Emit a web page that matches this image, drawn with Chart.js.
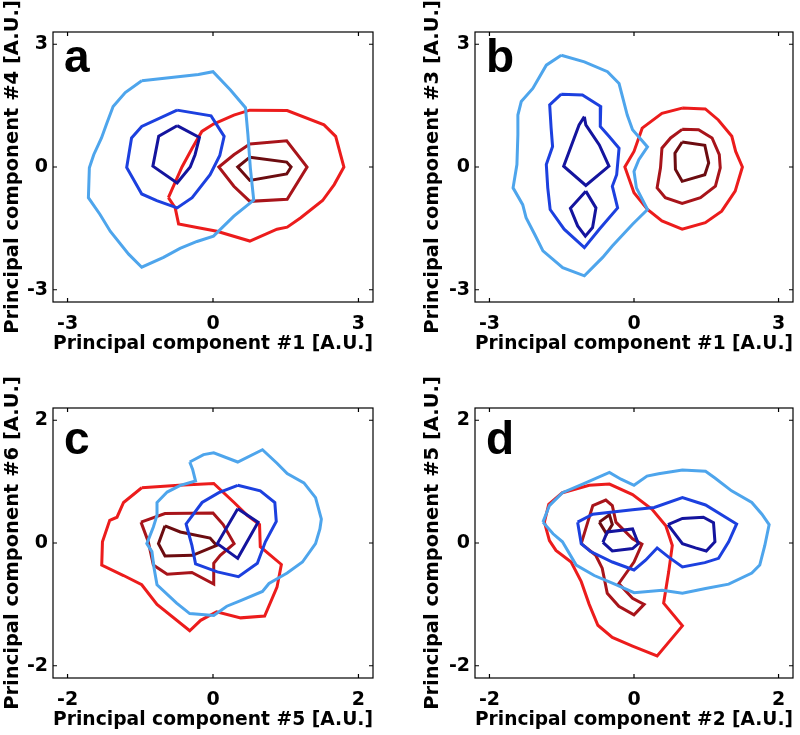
<!DOCTYPE html>
<html>
<head>
<meta charset="utf-8">
<script src="https://cdn.jsdelivr.net/npm/chart.js@4.4.1/dist/chart.umd.min.js"></script>
<style>
  body { margin: 0; width: 800px; height: 735px; overflow: hidden; background: #fff; position: relative; }
  canvas { position: absolute; }
</style>
</head>
<body>
<canvas id="panelA" width="400" height="370" style="left:0px;top:0px"></canvas>
<canvas id="panelB" width="400" height="370" style="left:400px;top:0px"></canvas>
<canvas id="panelC" width="400" height="370" style="left:0px;top:376px"></canvas>
<canvas id="panelD" width="400" height="370" style="left:400px;top:376px"></canvas>
<script>
// tick labels
const ticks3 = [-3, 0, 3];
const ticks2 = [-2, 0, 2];

// panel a : PC1 vs PC4
const aBlueOuter = [[-1.47,2.11],[-0.30,2.26],[0,2.33],[0.36,1.88],[0.67,1.45],[0.72,0.79],[0.77,-0.02],[0.84,-0.81],[0.43,-1.20],[0.01,-1.69],[-0.33,-1.82],[-0.68,-1.99],[-1.02,-2.21],[-1.47,-2.45],[-1.74,-2.13],[-2.12,-1.57],[-2.33,-1.16],[-2.57,-0.75],[-2.55,-0.02],[-2.46,0.30],[-2.30,0.71],[-2.19,1.07],[-2.06,1.48],[-1.81,1.82]];
const aBlueMid = [[-0.74,1.39],[-0.04,1.25],[0.23,0.75],[0.14,0.28],[-0.06,-0.19],[-0.43,-0.75],[-0.74,-1.00],[-1.16,-0.82],[-1.47,-0.66],[-1.78,-0.01],[-1.68,0.71],[-1.47,0.99]];
const aBlueInner = [[-0.74,1.01],[-0.28,0.72],[-0.37,0.30],[-0.47,0.00],[-0.74,-0.39],[-1.24,0.02],[-1.12,0.75]];
const aRedOuter = [[-0.92,-0.75],[-0.64,0.00],[-0.43,0.46],[-0.23,0.87],[0.01,1.05],[0.43,1.27],[0.76,1.39],[1.53,1.38],[2.29,1.03],[2.53,0.75],[2.70,0.00],[2.50,-0.43],[2.26,-0.82],[1.81,-1.24],[1.53,-1.47],[1.32,-1.52],[0.76,-1.81],[0.08,-1.57],[-0.33,-1.48],[-0.71,-1.39],[-0.78,-1.00]];
const aRedMid = [[0.76,0.56],[1.52,0.64],[1.94,0.00],[1.53,-0.79],[0.76,-0.84],[0.43,-0.47],[0.12,0.00],[0.43,0.30]];
const aRedInner = [[0.76,0.24],[1.52,0.12],[1.61,0.00],[1.52,-0.17],[0.76,-0.33],[0.51,0.00]];

// panel b : PC1 vs PC3
const bBlueOuter = [[-1.51,2.73],[-1.03,2.57],[-0.55,2.33],[-0.31,2.04],[-0.23,1.68],[-0.14,1.27],[-0.03,0.91],[0.28,0.49],[0.10,0.18],[0.00,-0.11],[0.05,-0.51],[0.28,-1.04],[-0.03,-1.40],[-0.45,-1.93],[-0.65,-2.21],[-1.03,-2.66],[-1.48,-2.46],[-1.89,-2.05],[-2.06,-1.65],[-2.24,-1.24],[-2.31,-0.92],[-2.51,-0.51],[-2.43,0.06],[-2.41,0.79],[-2.41,1.27],[-2.34,1.60],[-2.10,1.92],[-1.82,2.49]];
const bBlueMid = [[-1.51,1.78],[-1.07,1.76],[-0.69,1.48],[-0.70,0.99],[-0.52,0.75],[-0.31,0.46],[-0.36,-0.19],[-0.45,-0.47],[-0.34,-1.00],[-0.72,-1.52],[-1.03,-1.97],[-1.45,-1.52],[-1.74,-1.04],[-1.79,-0.51],[-1.82,0.06],[-1.69,0.50],[-1.72,0.95],[-1.75,1.52]];
const bBlueInnerTop = [[-1.03,1.23],[-1.00,1.03],[-0.72,0.54],[-0.52,0.02],[-1.00,-0.45],[-1.46,0.02],[-1.14,1.03]];
const bBlueInnerLow = [[-1.00,-0.59],[-0.79,-1.00],[-0.86,-1.48],[-1.01,-1.69],[-1.17,-1.44],[-1.32,-1.01]];
const bRedOuter = [[1.00,1.44],[1.48,1.42],[1.75,1.15],[2.03,0.75],[2.11,0.38],[2.25,0.00],[2.10,-0.59],[1.82,-1.08],[1.48,-1.36],[1.00,-1.52],[0.58,-1.32],[0.28,-1.04],[0.00,-0.63],[-0.19,0.00],[0.00,0.38],[0.17,0.95],[0.58,1.31]];
const bRedMid = [[1.00,0.92],[1.34,0.91],[1.62,0.71],[1.77,0.30],[1.79,-0.02],[1.69,-0.47],[1.38,-0.75],[1.00,-0.89],[0.65,-0.75],[0.48,-0.51],[0.55,-0.02],[0.58,0.46],[0.76,0.71]];
const bRedInner = [[1.00,0.61],[1.47,0.53],[1.55,0.10],[1.47,-0.19],[1.00,-0.35],[0.86,-0.06],[0.85,0.34]];

// panel c : PC5 vs PC6
const cBlueOuter = [[-0.32,1.32],[-0.13,1.44],[0.01,1.47],[0.34,1.32],[0.68,1.52],[0.88,1.30],[1.02,1.13],[1.25,0.98],[1.41,0.74],[1.49,0.39],[1.47,0.23],[1.41,-0.01],[1.23,-0.31],[1.02,-0.49],[0.93,-0.55],[0.77,-0.66],[0.68,-0.79],[0.38,-0.94],[0.19,-1.03],[0.01,-1.18],[-0.32,-1.15],[-0.50,-0.98],[-0.77,-0.68],[-0.81,-0.41],[-0.84,-0.14],[-0.91,-0.01],[-0.82,0.26],[-0.77,0.45],[-0.77,0.66],[-0.63,0.83],[-0.45,0.94],[-0.24,1.01],[-0.28,1.20]];
const cBlueMid = [[0.34,0.94],[0.65,0.85],[0.85,0.66],[0.87,0.35],[0.72,0.02],[0.61,-0.33],[0.35,-0.55],[0.06,-0.47],[-0.24,-0.34],[-0.29,-0.04],[-0.37,0.31],[-0.15,0.66],[0.08,0.82]];
const cBlueInner = [[0.34,0.56],[0.62,0.34],[0.34,-0.25],[0.06,-0.01]];
const cRedOuter = [[-0.98,0.90],[-0.47,0.94],[0.01,0.97],[0.29,0.66],[0.47,0.45],[0.64,0.30],[0.65,-0.06],[0.94,-0.35],[0.88,-0.72],[0.71,-1.19],[0.38,-1.22],[0.05,-1.12],[-0.17,-1.26],[-0.32,-1.43],[-0.77,-1.00],[-0.98,-0.68],[-1.23,-0.53],[-1.53,-0.36],[-1.52,0.02],[-1.42,0.37],[-1.32,0.42],[-1.23,0.66]];
const cRedMid = [[-0.99,0.34],[-0.66,0.48],[0.00,0.49],[0.14,0.30],[0.29,-0.01],[0.10,-0.20],[0.01,-0.33],[0.01,-0.67],[-0.29,-0.48],[-0.63,-0.51],[-0.82,-0.36],[-0.89,0.02]];
const cRedInner = [[-0.66,0.28],[-0.45,0.18],[-0.04,0.08],[0.05,-0.04],[-0.28,-0.20],[-0.66,-0.21],[-0.75,-0.01]];

// panel d : PC2 vs PC5
const dBlueOuter = [[-1.26,0.34],[-1.17,0.61],[-0.99,0.82],[-0.71,0.96],[-0.34,1.15],[-0.18,1.04],[0.00,0.94],[0.18,1.09],[0.34,1.13],[0.67,1.19],[0.99,1.17],[1.12,1.06],[1.35,0.85],[1.63,0.66],[1.77,0.47],[1.87,0.30],[1.81,-0.04],[1.74,-0.36],[1.63,-0.49],[1.31,-0.67],[0.99,-0.74],[0.67,-0.82],[0.39,-0.77],[0.00,-0.81],[-0.25,-0.68],[-0.55,-0.53],[-0.80,-0.36],[-0.99,0.02],[-1.12,0.15]];
const dBlueMid = [[-0.78,0.34],[-0.57,0.47],[-0.02,0.54],[0.28,0.58],[0.67,0.74],[0.99,0.62],[1.42,0.31],[1.31,0.02],[1.17,-0.25],[0.98,-0.32],[0.67,-0.39],[0.48,-0.23],[0.32,-0.08],[0.16,-0.28],[0.00,-0.44],[-0.30,-0.31],[-0.60,-0.14],[-0.73,-0.01]];
const dBlueInnerLeft = [[-0.43,0.01],[-0.37,0.18],[-0.02,0.23],[0.06,-0.01],[-0.02,-0.09],[-0.30,-0.13]];
const dBlueInnerRight = [[0.47,0.30],[0.67,0.40],[0.96,0.42],[1.10,0.33],[1.12,0.02],[1.00,-0.13],[0.85,-0.08],[0.67,-0.01]];
const dRedOuter = [[-1.24,0.34],[-1.18,0.63],[-0.99,0.82],[-0.62,0.94],[-0.34,0.96],[-0.02,0.79],[0.25,0.55],[0.44,0.28],[0.53,-0.04],[0.48,-0.47],[0.41,-0.98],[0.67,-1.35],[0.32,-1.84],[-0.02,-1.68],[-0.30,-1.54],[-0.50,-1.34],[-0.62,-1.00],[-0.73,-0.63],[-0.87,-0.31],[-1.08,-0.12],[-1.17,0.04]];
const dRedMid = [[-0.73,-0.01],[-0.64,0.34],[-0.57,0.61],[-0.39,0.70],[-0.30,0.61],[-0.25,0.34],[-0.02,0.07],[0.11,-0.02],[0.00,-0.31],[-0.21,-0.66],[-0.02,-0.90],[0.14,-1.00],[0.00,-1.17],[-0.21,-1.03],[-0.37,-0.82],[-0.44,-0.41],[-0.53,-0.20]];
const dRedInner = [[-0.48,0.34],[-0.34,0.46],[-0.30,0.30],[-0.38,0.15]];

const colors = {
  lightBlue: '#4ea5ec',
  blue: '#1c40df',
  navy: '#14149e',
  red: '#ec1c1c',
  darkRed: '#a8141a',
  maroon: '#6c0c10'
};

const FONT = 'DejaVu Sans';

const panels = [
  { id: 'panelA', letter: 'a', xTitle: 'Principal component #1 [A.U.]', yTitle: 'Principal component #4 [A.U.]',
    range: 3.3, ticks: ticks3, padLeft: 0, yWidth: 53, padRight: 27, letterDy: 40,
    lines: [[aBlueOuter, 'lightBlue'], [aBlueMid, 'blue'], [aBlueInner, 'navy'], [aRedOuter, 'red'], [aRedMid, 'darkRed'], [aRedInner, 'maroon']] },
  { id: 'panelB', letter: 'b', xTitle: 'Principal component #1 [A.U.]', yTitle: 'Principal component #3 [A.U.]',
    range: 3.3, ticks: ticks3, padLeft: 20, yWidth: 55, padRight: 7, letterDy: 40,
    lines: [[bBlueOuter, 'lightBlue'], [bBlueMid, 'blue'], [bBlueInnerTop, 'navy'], [bBlueInnerLow, 'navy'], [bRedOuter, 'red'], [bRedMid, 'darkRed'], [bRedInner, 'maroon']] },
  { id: 'panelC', letter: 'c', xTitle: 'Principal component #5 [A.U.]', yTitle: 'Principal component #6 [A.U.]',
    range: 2.2, ticks: ticks2, padLeft: 0, yWidth: 53, padRight: 27, letterDy: 46,
    lines: [[cBlueOuter, 'lightBlue'], [cBlueMid, 'blue'], [cBlueInner, 'navy'], [cRedOuter, 'red'], [cRedMid, 'darkRed'], [cRedInner, 'maroon']] },
  { id: 'panelD', letter: 'd', xTitle: 'Principal component #2 [A.U.]', yTitle: 'Principal component #5 [A.U.]',
    range: 2.2, ticks: ticks2, padLeft: 20, yWidth: 55, padRight: 7, letterDy: 46,
    lines: [[dBlueOuter, 'lightBlue'], [dBlueMid, 'blue'], [dBlueInnerLeft, 'navy'], [dBlueInnerRight, 'navy'], [dRedOuter, 'red'], [dRedMid, 'darkRed'], [dRedInner, 'maroon']] }
];

// box, inward ticks and panel letter
const framePlugin = {
  id: 'frame',
  afterDraw(chart, args, opts) {
    const { ctx, chartArea: a, scales: { x, y } } = chart;
    ctx.save();
    ctx.strokeStyle = '#000';
    ctx.lineWidth = 1.2;
    ctx.strokeRect(a.left, a.top, a.right - a.left, a.bottom - a.top);
    ctx.beginPath();
    x.ticks.forEach(t => {
      const px = x.getPixelForValue(t.value);
      ctx.moveTo(px, a.bottom); ctx.lineTo(px, a.bottom - 4);
      ctx.moveTo(px, a.top); ctx.lineTo(px, a.top + 4);
    });
    y.ticks.forEach(t => {
      const py = y.getPixelForValue(t.value);
      ctx.moveTo(a.left, py); ctx.lineTo(a.left + 4, py);
      ctx.moveTo(a.right, py); ctx.lineTo(a.right - 4, py);
    });
    ctx.stroke();
    ctx.fillStyle = '#000';
    ctx.font = 'bold 46px "Liberation Sans"';
    ctx.textBaseline = 'alphabetic';
    ctx.fillText(opts.letter, a.left + 11, a.top + opts.dy);
    ctx.restore();
  }
};

panels.forEach(p => {
  const datasets = p.lines.map(([pts, c]) => ({
    data: pts.concat([pts[0]]).map(([x, y]) => ({ x, y })),
    borderColor: colors[c],
    borderWidth: 3,
    showLine: true,
    pointRadius: 0,
    tension: 0,
    fill: false
  }));
  const tickFont = { family: FONT, weight: 'bold', size: 19 };
  const titleFont = { family: FONT, weight: 'bold', size: 19.5 };
  new Chart(document.getElementById(p.id), {
    type: 'scatter',
    data: { datasets },
    options: {
      responsive: false,
      animation: false,
      devicePixelRatio: 1,
      layout: { padding: { left: p.padLeft, right: p.padRight, top: 32, bottom: 0 } },
      plugins: {
        legend: { display: false },
        tooltip: { enabled: false },
        frame: { letter: p.letter, dy: p.letterDy }
      },
      scales: {
        x: {
          type: 'linear', min: -p.range, max: p.range,
          afterBuildTicks: s => { s.ticks = p.ticks.map(v => ({ value: v })); },
          afterFit: s => { s.height = 68; },
          grid: { display: false, drawTicks: false },
          border: { display: false },
          ticks: { color: '#000', font: tickFont, padding: 11, maxRotation: 0, autoSkip: false, callback: v => String(v) },
          title: { display: true, text: p.xTitle, color: '#000', font: titleFont, padding: { top: 0, bottom: 14 } }
        },
        y: {
          type: 'linear', min: -p.range, max: p.range,
          afterBuildTicks: s => { s.ticks = p.ticks.map(v => ({ value: v })); },
          afterFit: s => { s.width = p.yWidth; },
          grid: { display: false, drawTicks: false },
          border: { display: false },
          ticks: { color: '#000', font: tickFont, padding: 5, autoSkip: false, callback: v => String(v) },
          title: { display: true, text: p.yTitle, color: '#000', font: titleFont, padding: { top: 1, bottom: 0 } }
        }
      }
    },
    plugins: [framePlugin]
  });
});
</script>
</body>
</html>
